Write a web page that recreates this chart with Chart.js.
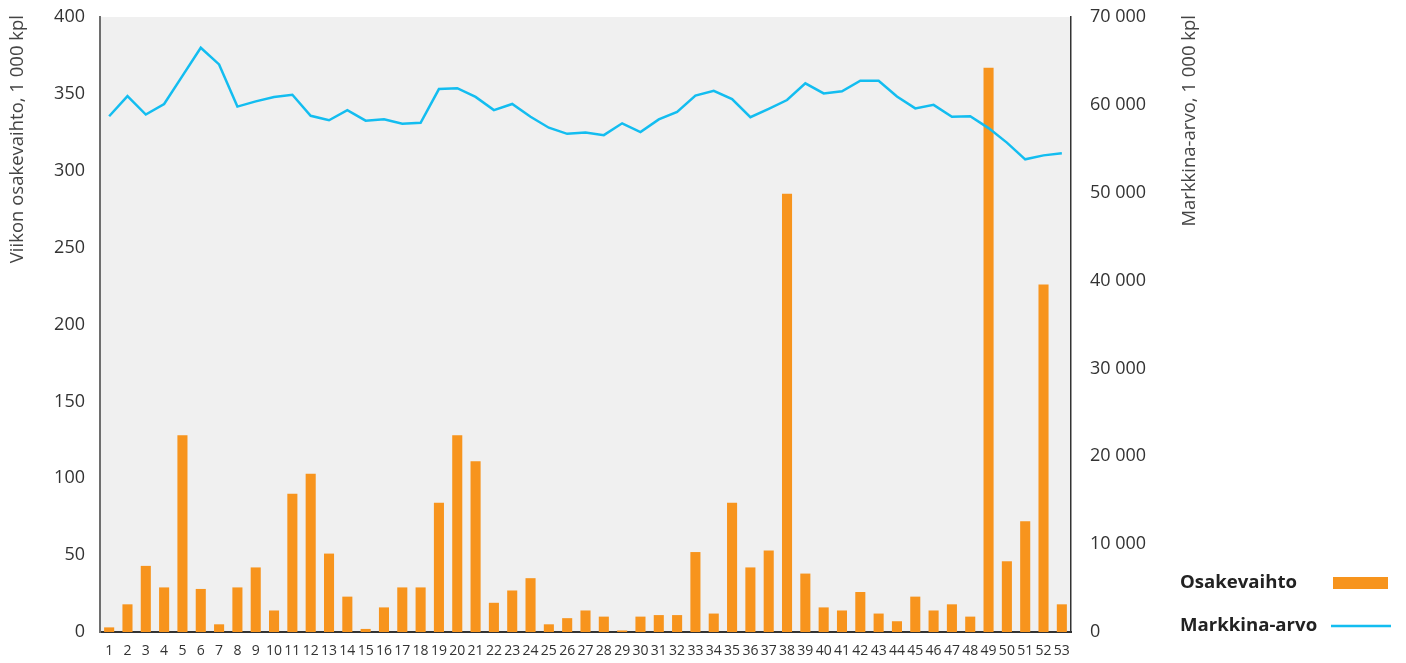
<!DOCTYPE html>
<html>
<head>
<meta charset="utf-8">
<script src="https://cdn.jsdelivr.net/npm/chart.js@4/dist/chart.umd.min.js"></script>
<style>
  html, body { margin: 0; padding: 0; background: #fff; }
  #wrap { width: 1406px; height: 663px; }
</style>
</head>
<body>
<div id="wrap"><canvas id="chart" width="1406" height="663"></canvas></div>
<script>
// Weeks 1..53
const weeks = Array.from({ length: 53 }, (_, i) => String(i + 1));

// Weekly share turnover, 1 000 pcs (left axis)
const turnover = [
    3, 18, 43, 29, 128, 28, 5, 29, 42, 14,
    90, 103, 51, 23, 2, 16, 29, 29, 84, 128,
    111, 19, 27, 35, 5, 9, 14, 10, 1, 10,
    11, 11, 52, 12, 84, 42, 53, 285, 38, 16,
    14, 26, 12, 7, 23, 14, 18, 10, 367, 46,
    72, 226, 18
];

// Market value, 1 000 pcs (right axis)
const marketValue = [
    58700, 61000, 58900, 60100, 63300, 66500, 64600, 59800, 60400, 60900,
    61150, 58750, 58250, 59400, 58200, 58350, 57850, 57950, 61800, 61900,
    60900, 59400, 60100, 58650, 57400, 56700, 56850, 56550, 57900, 56900,
    58350, 59200, 61050, 61600, 60650, 58600, 59550, 60550, 62450, 61300,
    61550, 62750, 62750, 60950, 59600, 60000, 58650, 58700, 57350, 55700,
    53800, 54250, 54500
];

const leftTicks = { min: 0, max: 400, step: 50 };
const rightTicks = { min: 0, max: 70000, step: 10000 };

const ORANGE = '#f7941d';
const CYAN = '#13bdf0';
const TEXT = '#333333';
const FONT = '"Open Sans", "Noto Sans", sans-serif';

const plotBackground = {
    id: 'plotBackground',
    beforeDraw(chart) {
        const { ctx, chartArea: a } = chart;
        ctx.save();
        ctx.fillStyle = '#f0f0f0';
        ctx.fillRect(a.left, a.top, a.right - a.left, a.bottom - a.top);
        ctx.restore();
    }
};

// both axis titles read bottom-to-top, pinned to the top
const axisTitles = {
    id: 'axisTitles',
    afterDraw(chart) {
        const { ctx } = chart;
        ctx.save();
        ctx.fillStyle = '#444';
        ctx.font = '18.5px ' + FONT;
        ctx.textAlign = 'right';
        ctx.textBaseline = 'middle';
        [[18, 'Viikon osakevaihto, 1 000 kpl'], [1190, 'Markkina-arvo, 1 000 kpl']].forEach(([x, t]) => {
            ctx.save();
            ctx.translate(x, 15);
            ctx.rotate(-Math.PI / 2);
            ctx.fillText(t, 0, 0);
            ctx.restore();
        });
        ctx.restore();
    }
};

const sideLegend = {
    id: 'sideLegend',
    afterDraw(chart) {
        const { ctx } = chart;
        const ds = chart.data.datasets;
        ctx.save();
        ctx.font = 'bold 18.6px ' + FONT;
        ctx.fillStyle = '#222';
        ctx.textBaseline = 'middle';
        ctx.fillText(ds[0].label, 1180, 583);
        ctx.fillText(ds[1].label, 1180, 626);
        ctx.fillStyle = ds[0].backgroundColor;
        ctx.fillRect(1333, 577, 55, 12);
        ctx.strokeStyle = ds[1].borderColor;
        ctx.lineWidth = 2.5;
        ctx.beginPath();
        ctx.moveTo(1331, 626);
        ctx.lineTo(1391, 626);
        ctx.stroke();
        ctx.restore();
    }
};

const fmtSpace = v => String(v).replace(/\B(?=(\d{3})+(?!\d))/g, ' ');

// fixed box for a vertical axis, no extra label overflow padding
const fixY = w => s => { s.width = w; s.paddingTop = 0; s.paddingBottom = 0; };

new Chart(document.getElementById('chart'), {
    data: {
        labels: weeks,
        datasets: [{
            type: 'bar',
            label: 'Osakevaihto',
            data: turnover,
            yAxisID: 'y',
            backgroundColor: ORANGE,
            categoryPercentage: 1,
            barPercentage: 0.55,
            order: 1,
        }, {
            type: 'line',
            label: 'Markkina-arvo',
            data: marketValue,
            yAxisID: 'y1',
            borderColor: CYAN,
            borderWidth: 2.5,
            pointRadius: 0,
            tension: 0,
            order: 0,
        }]
    },
    options: {
        responsive: false,
        animation: false,
        layout: { padding: { top: 17, right: 195, bottom: 0, left: 0 } },
        plugins: {
            legend: { display: false },
            tooltip: { enabled: false },
        },
        scales: {
            x: {
                grid: { display: false, drawTicks: false },
                border: { display: true, color: '#333', width: 2 },
                ticks: {
                    color: TEXT, font: { family: FONT, size: 14 },
                    autoSkip: false, maxRotation: 0, padding: 11,
                },
                afterFit(s) { s.height = 31; s.paddingLeft = 0; s.paddingRight = 0; },
            },
            y: {
                position: 'left',
                min: leftTicks.min, max: leftTicks.max,
                grid: { display: false, drawTicks: false },
                border: { display: true, color: '#6e6e6e', width: 2 },
                ticks: {
                    stepSize: leftTicks.step, color: TEXT,
                    font: { family: FONT, size: 18 }, padding: 15,
                },
                afterFit: fixY(100),
            },
            y1: {
                position: 'right',
                min: rightTicks.min, max: rightTicks.max,
                grid: { display: false, drawTicks: false },
                border: { display: true, color: '#333', width: 1.5 },
                ticks: {
                    stepSize: rightTicks.step, color: TEXT,
                    font: { family: FONT, size: 18 }, padding: 19,
                    callback: v => fmtSpace(v),
                },
                afterFit: fixY(140),
            }
        }
    },
    plugins: [plotBackground, axisTitles, sideLegend]
});
</script>
</body>
</html>
